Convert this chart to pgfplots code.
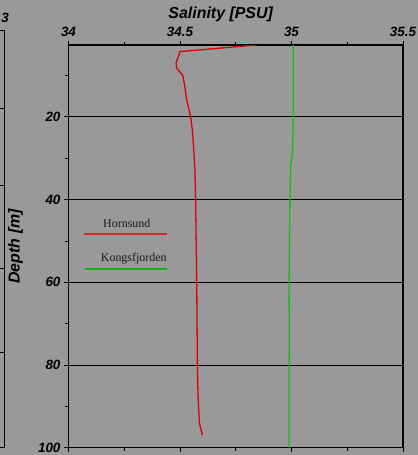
\documentclass[border=0pt]{standalone}
\usepackage{pgfplots}
\pgfplotsset{compat=1.18}
\usepackage{fontspec}
\setmainfont{Liberation Serif}
\newfontfamily\arialfont{Liberation Sans}
\definecolor{bg}{RGB}{153,153,153}
\definecolor{hred}{RGB}{220,0,0}
\definecolor{kgreen}{RGB}{20,190,20}
\definecolor{legred}{RGB}{215,40,40}
\definecolor{leggreen}{RGB}{20,180,20}
\begin{document}
\begin{tikzpicture}
\fill[bg] (-68.5bp,-7.3bp) rectangle (349.5bp,447.7bp);
% fragment of the neighbouring panel on the left
\draw[black, line width=1bp] (-64bp,0bp) -- (-64bp,417.7bp);
\foreach \yy in {0,95.7,179.7,262.7,339.7,417.7}{\draw[black, line width=0.8bp] (-68.5bp,\yy bp) -- (-64bp,\yy bp);}
\node[font=\arialfont\bfseries\itshape\fontsize{13.5}{14}\selectfont, anchor=center, inner sep=0pt] at (-63.5bp,429.5bp) {3};
\begin{axis}[
  scale only axis,
  width=334.5bp, height=402.7bp,
  xmin=34, xmax=35.5,
  ymin=2.6, ymax=100,
  y dir=reverse,
  axis background/.style={fill=none},
  axis line style={black, line width=1.2bp},
  xtick={34,34.5,35,35.5},
  minor xtick={34.25,34.75,35.25},
  ytick={20,40,60,80,100},
  minor ytick={10,30,50,70,90},
  xtick pos=both,
  ytick pos=left,
  xticklabel pos=upper,
  tick align=outside,
  major tick length=4.5bp,
  minor tick length=3bp,
  tick style={black, line width=0.9bp},
  ymajorgrids,
  major grid style={black, line width=0.9bp},
  /pgf/number format/assume math mode=true,
  ticklabel style={font=\arialfont\bfseries\itshape\fontsize{13.5}{14}\selectfont},
  xlabel={Salinity [PSU]},
  ylabel={Depth [m]},
  label style={font=\arialfont\bfseries\itshape\fontsize{16}{18}\selectfont},
  xlabel style={at={(axis description cs:0.455,1)}, anchor=center, yshift=31bp},
  ylabel style={at={(axis description cs:-0.1584,0.5)}, anchor=center},
]
\addplot[hred, line width=1.3bp] coordinates {
(34.84,2.6) (34.50,4.2) (34.482,7.0) (34.485,8.2) (34.512,9.9) (34.522,12.7)
(34.53,15.9) (34.548,20) (34.557,23.9) (34.567,32.8) (34.570,40) (34.575,60)
(34.578,80) (34.581,87.7) (34.587,94) (34.60,96.9)};
\addplot[kgreen, line width=1.3bp] coordinates {
(35.008,2.6) (35.008,20) (35.005,28) (34.996,32) (34.993,40) (34.989,60)
(34.99,75) (34.989,80) (34.989,100)};
% legend (text above its line sample)
\draw[legred, line width=1.3bp] (axis description cs:0.0463,0.5306) -- (axis description cs:0.2945,0.5306);
\node[anchor=base west, inner sep=0pt, font=\fontsize{12}{13}\selectfont, text=black!90] at (axis description cs:0.1031,0.5476) {Hornsund};
\draw[leggreen, line width=1.3bp] (axis description cs:0.0493,0.4438) -- (axis description cs:0.2945,0.4438);
\node[anchor=base west, inner sep=0pt, font=\fontsize{12}{13}\selectfont, text=black!90] at (axis description cs:0.0963,0.4636) {Kongsfjorden};
\end{axis}
\pgfresetboundingbox
\path[use as bounding box] (-68.5bp,-7.3bp) rectangle (349.5bp,447.7bp);
\end{tikzpicture}
\end{document}
